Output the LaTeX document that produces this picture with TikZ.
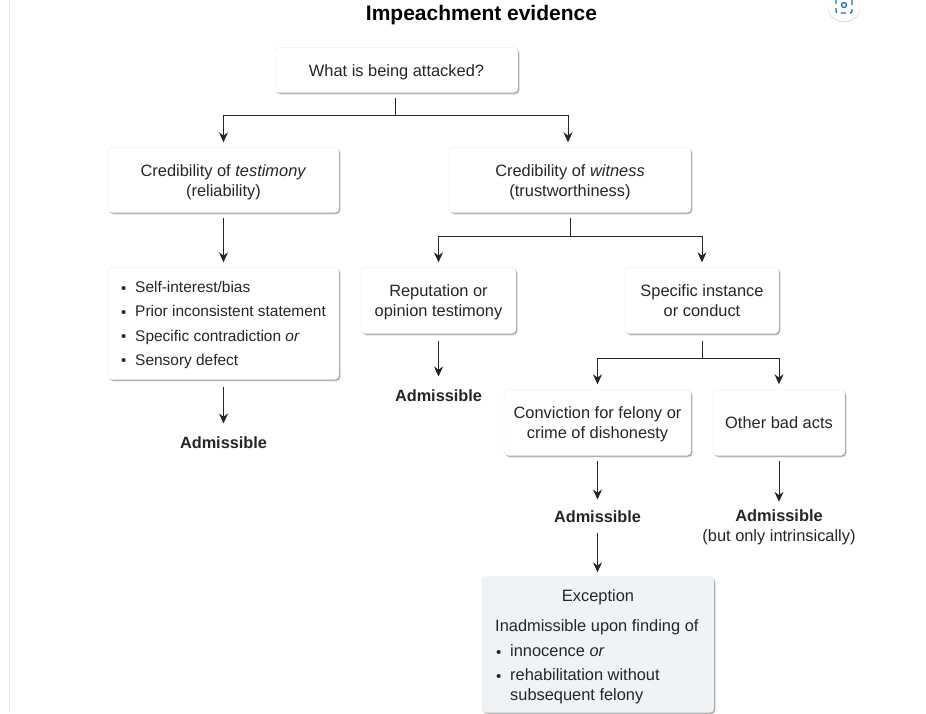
\documentclass[tikz,border=0pt]{standalone}
\usepackage{fontspec}
\setmainfont{Liberation Sans}
\usepackage{tikz}
\usetikzlibrary{arrows.meta}
\usetikzlibrary{shadows}
\usetikzlibrary{calc}
\definecolor{inkgrey}{HTML}{262626}
\definecolor{edgegrey}{HTML}{E8E8E8}
\definecolor{paleblue}{HTML}{EFF3F6}
\definecolor{iconblue}{HTML}{1A6FC4}
\newcommand{\bul}{\makebox[15pt][l]{\hspace*{1pt}\raisebox{-.5pt}{\fontsize{15}{15}\selectfont\textbullet}}}
\newcommand{\rowstrut}{\rule[-4pt]{0pt}{20pt}}
\tikzset{
	box/.style={draw=edgegrey,fill=white,rounded corners=4pt,align=center,inner sep=0pt,text=inkgrey,
		drop shadow={shadow xshift=1.5pt,shadow yshift=-2pt,fill=black,opacity=.12},
		drop shadow={shadow xshift=1pt,shadow yshift=-1pt,fill=black,opacity=.3}},
	verdict/.style={font=\fontsize{16.3}{20}\selectfont\bfseries,text=inkgrey},
	plain/.style={text=inkgrey,align=left,inner sep=0pt},
	link/.style={draw=inkgrey,line width=1pt},
	linkto/.style={link,-{Stealth[length=10pt,width=9pt]}},
}
\begin{document}
\begin{tikzpicture}[x=1pt,y=-1pt,font=\fontsize{16.4}{20}\selectfont]
	\useasboundingbox (0,0) rectangle (926,713);
	\fill[white] (0,0) rectangle (926,713);
\draw[edgegrey,line width=1pt] (9,0) -- (9,713);
\draw (481.5,15) node[text=black,font=\fontsize{21}{24}\selectfont\bfseries] (title) {Impeachment evidence};
\draw (844,4) node[circle,fill=white,minimum size=34pt,inner sep=0pt,drop shadow={shadow xshift=0pt,shadow yshift=-1.5pt,fill=black,opacity=.12}] (iconbase) {};
\draw (844,5) node[draw=iconblue,line width=1.3pt,circle,minimum size=5pt,inner sep=0pt] (iconlens) {};
\draw[iconblue,line width=1.3pt,rounded corners=2pt,dash pattern=on 5pt off 4pt] (836,-3) rectangle (852,13);
	% boxes
	\draw (396.5,70) node[box,minimum width=243pt,minimum height=45pt] (attacked) {\rowstrut What is being attacked?};
	\draw (223.5,180) node[box,minimum width=231pt,minimum height=65pt] (testimony) {\rowstrut Credibility of \textit{testimony}\\\rowstrut (reliability)};
	\draw (570,180) node[box,minimum width=242pt,minimum height=65pt] (witness) {\rowstrut Credibility of \textit{witness}\\\rowstrut (trustworthiness)};
	\draw (223.5,323.5) node[box,minimum width=231pt,minimum height=112pt] (factors) {};
	\draw (438.5,300.5) node[box,minimum width=155pt,minimum height=66pt] (reputation) {\rowstrut Reputation or\\\rowstrut opinion testimony};
	\draw (702,300.5) node[box,minimum width=154pt,minimum height=66pt] (instance) {\rowstrut Specific instance\\\rowstrut or conduct};
	\draw (597.5,422.5) node[box,minimum width=187pt,minimum height=66pt] (conviction) {\rowstrut Conviction for felony or\\\rowstrut crime of dishonesty};
	\draw (779,422.5) node[box,minimum width=132pt,minimum height=66pt] (otheracts) {\rowstrut Other bad acts};
	\draw (598,644.5) node[box,fill=paleblue,minimum width=232pt,minimum height=136pt] (exception) {};
	% box texts
	\draw (120,325) node[plain,anchor=west,font=\fontsize{15.45}{20}\selectfont] (factorlist) {\bul Self-interest/bias\\[4.3pt]\bul Prior inconsistent statement\\[4.3pt]\bul Specific contradiction \textit{or}\\[4.3pt]\bul Sensory defect};
	\draw (598,597.5) node[text=inkgrey] (exceptionhead) {Exception};
	\draw (495,627) node[plain,anchor=west] (exceptionlead) {Inadmissible upon finding of};
	\draw (495,674) node[plain,anchor=west] (exceptionlist) {\bul innocence \textit{or}\\[4pt]\bul rehabilitation without\\[-.5pt]\hspace*{15pt}subsequent felony};
	% outcomes
	\draw (223.5,443) node[verdict] (admtestimony) {Admissible};
	\draw (438.5,396) node[verdict] (admreputation) {Admissible};
	\draw (597.5,517) node[verdict] (admconviction) {Admissible};
	\draw (779,527) node[align=center,text=inkgrey] (admother) {\textbf{Admissible}\\(but only intrinsically)};
	% branch points
	\coordinate (attackedjoin) at (395.5,115);
	\coordinate (witnessjoin) at (570.5,236);
	\coordinate (instancejoin) at (702,358);
	\draw[link,shorten <=5pt] (attacked.south -| attackedjoin) -- (attackedjoin);
	\draw[linkto,shorten >=5pt] (attackedjoin) -| (testimony.north);
	\draw[linkto,shorten >=5pt] (attackedjoin) -| ($(witness.north)+(-2,0)$);
	\draw[linkto,shorten <=5pt,shorten >=5pt] (testimony) -- (factors);
	\draw[linkto,shorten <=7pt,shorten >=10pt] (factors) -- (admtestimony);
	\draw[link,shorten <=5pt] (witness.south -| witnessjoin) -- (witnessjoin);
	\draw[linkto,shorten >=5pt] (witnessjoin) -| (reputation.north);
	\draw[linkto,shorten >=5pt] (witnessjoin) -| (instance.north);
	\draw[linkto,shorten <=7pt,shorten >=10pt] (reputation) -- (admreputation);
	\draw[link,shorten <=7pt] (instance) -- (instancejoin);
	\draw[linkto,shorten >=5pt] (instancejoin) -| (conviction.north);
	\draw[linkto,shorten >=5pt] (instancejoin) -| (otheracts.north);
	\draw[linkto,shorten <=5pt,shorten >=8pt] (conviction) -- (admconviction);
	\draw[linkto,shorten <=5pt,shorten >=4pt] (otheracts.south) -- (admother.north);
	\draw[linkto,shorten <=6pt,shorten >=4pt] (admconviction) -- (exception.north -| admconviction);
	\end{tikzpicture}
\end{document}
